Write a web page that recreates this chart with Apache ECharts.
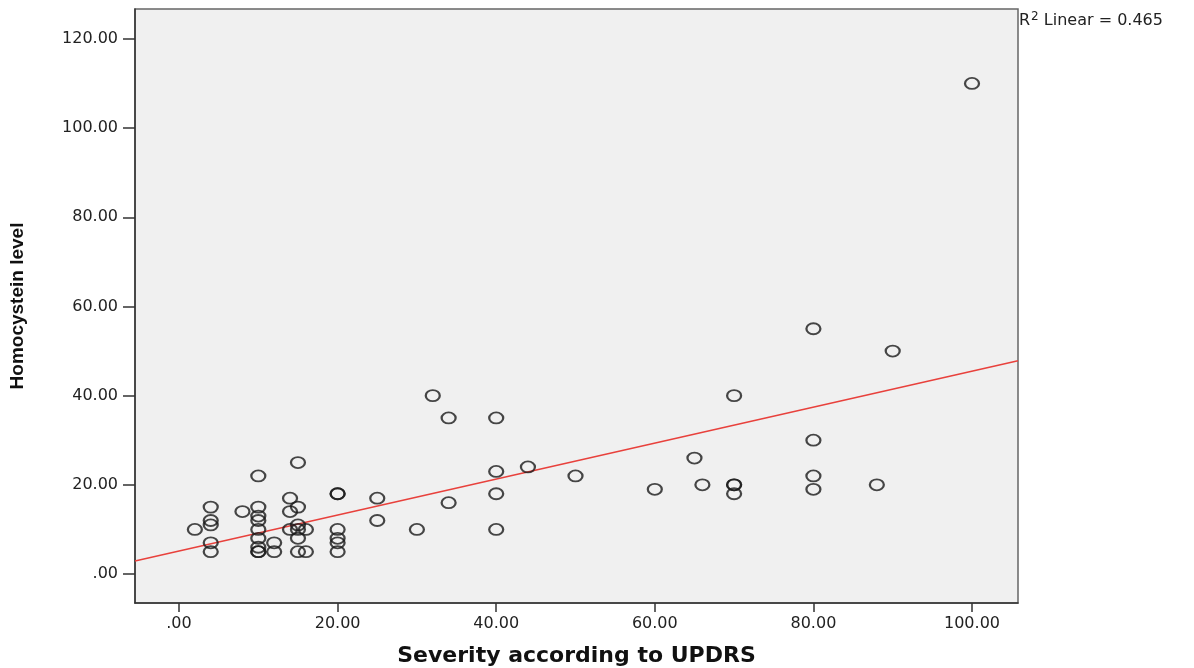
<!DOCTYPE html>
<html>
<head>
<meta charset="utf-8">
<script src="https://cdn.jsdelivr.net/npm/echarts@6/dist/echarts.min.js"></script>
<style>html,body{margin:0;padding:0;background:#fff;}#c{width:1194px;height:668px;}</style>
</head>
<body>
<div id="c"></div>
<script>
// Data
const severity = [2,4,4,4,4,4,8,10,10,10,10,10,10,10,10,10,12,12,14,14,14,15,15,15,15,15,15,16,16,20,20,20,20,20,20,25,25,30,32,34,34,40,40,40,40,44,50,60,65,66,70,70,70,70,80,80,80,80,88,90,100];
const homocystein = [10,15,12,11,7,5,14,22,15,13,12,10,8,6,5,5,7,5,17,14,10,25,15,11,10,8,5,10,5,18,18,10,8,7,5,17,12,10,40,35,16,35,23,18,10,24,22,19,26,20,40,20,20,18,55,30,22,19,20,50,110];
// Fit line end points (at the plot edges)
const fitX = [-5.55, 105.8];
const fitY = [2.9, 47.8];
const xTicks = [0,20,40,60,80,100];
const yTicks = [0,20,40,60,80,100,120];
const xTitle = 'Severity according to UPDRS';
const yTitle = 'Homocystein level';
const r2Value = '0.465';

const points = severity.map((x,i)=>[x, homocystein[i]]);
const fitLine = fitX.map((x,i)=>[x, fitY[i]]);
const fmt = v => v === 0 ? '.00' : v.toFixed(2);

const chart = echarts.init(document.getElementById('c'), null, {renderer:'canvas'});
chart.setOption({
  animation:false,
  backgroundColor:'#ffffff',
  grid:{left:135, top:9, right:176, bottom:65, containLabel:false, outerBoundsMode:'none',
        show:true, backgroundColor:'#f0f0f0', borderColor:'#666', borderWidth:1.5},
  xAxis:{
    type:'value', min:-5.55, max:105.8,
    name:xTitle, nameLocation:'middle', nameGap:42,
    nameTextStyle:{fontFamily:'DejaVu Sans', fontWeight:'bold', fontSize:22, color:'#111'},
    axisLine:{onZero:false, lineStyle:{color:'#333', width:1.5}},
    axisTick:{show:true, length:9, customValues:xTicks, lineStyle:{color:'#333', width:1.5}},
    axisLabel:{customValues:xTicks, formatter:fmt, fontFamily:'DejaVu Sans', fontSize:16, color:'#222', margin:13},
    splitLine:{show:false}
  },
  yAxis:{
    type:'value', min:-6.5, max:126.7,
    name:yTitle, nameLocation:'middle', nameGap:108,
    nameTextStyle:{fontFamily:'Liberation Sans', fontWeight:'bold', fontSize:19, color:'#111'},
    axisLine:{onZero:false, lineStyle:{color:'#333', width:1.5}},
    axisTick:{show:true, length:12, customValues:yTicks, lineStyle:{color:'#333', width:1.5}},
    axisLabel:{customValues:yTicks, formatter:fmt, fontFamily:'DejaVu Sans', fontSize:16, color:'#222', margin:17},
    splitLine:{show:false}
  },
  graphic:[{
    type:'text', left:1019, top:11,
    style:{
      text:'{r|R}{s|2}{r| Linear = ' + r2Value + '}',
      rich:{
        r:{fontFamily:'DejaVu Sans', fontSize:16, fill:'#222', verticalAlign:'bottom', lineHeight:18},
        s:{fontFamily:'DejaVu Sans', fontSize:12, fill:'#222', verticalAlign:'top', lineHeight:18, padding:[0,0,6,1]}
      }
    }
  }],
  series:[
    {
      type:'line', data:fitLine, symbol:'none', silent:true,
      lineStyle:{color:'#e8413c', width:1.5}, z:2
    },
    {
      type:'scatter', data:points, symbol:'circle', symbolSize:[14,11],
      itemStyle:{color:'rgba(0,0,0,0)', borderColor:'#1a1a1a', borderWidth:2}, z:3
    }
  ]
});
</script>
</body>
</html>
